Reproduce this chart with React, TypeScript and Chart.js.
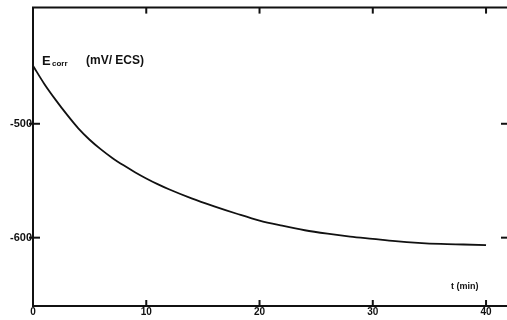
import React, { useEffect, useRef } from "react";
import { Chart, registerables } from "chart.js";

Chart.register(...registerables);

const timeMin = [0, 1, 2, 3, 4, 5, 6, 7, 8, 9, 10, 11, 12, 14, 16, 18, 20, 22, 24, 26, 28, 30, 32, 34, 36, 38, 40];
const ecorr = [-449, -465, -479, -492, -504, -514, -522.5, -530, -536.5, -542.5, -548, -553, -557.5, -565.5, -572.5, -579, -585, -589.5, -593.5, -596.5, -599, -601, -603, -604.5, -605.5, -606, -606.5];
const xTicks = [0, 10, 20, 30, 40];
const yTicks = [-500, -600];
const yTitleMain = "E";
const yTitleSub = "corr";
const yTitleUnit = "(mV/ ECS)";
const xTitle = "t (min)";

const INK = "#111";
const FONT = "'Liberation Sans', Arial, sans-serif";

const framePlugin = {
  id: "frame",
  afterDraw(chart: any) {
    const { ctx, chartArea, scales } = chart;
    const { left, right, top, bottom } = chartArea;
    const x = scales.x;
    const y = scales.y;
    ctx.save();
    ctx.strokeStyle = INK;
    ctx.lineWidth = 2;
    const line = (x1: number, y1: number, x2: number, y2: number) => {
      ctx.beginPath();
      ctx.moveTo(x1, y1);
      ctx.lineTo(x2, y2);
      ctx.stroke();
    };
    line(left - 1, top, right, top);
    for (const v of xTicks) {
      if (v === 0) continue;
      const px = x.getPixelForValue(v);
      line(px, bottom, px, bottom - 6);
      line(px, top, px, top + 6);
    }
    for (const v of yTicks) {
      const py = y.getPixelForValue(v);
      line(left - 4, py, left + 7, py);
      line(right - 6, py, right, py);
    }
    ctx.fillStyle = INK;
    ctx.textBaseline = "alphabetic";
    ctx.textAlign = "left";
    ctx.font = `bold 13px ${FONT}`;
    ctx.fillText(yTitleMain, left + 9, top + 57);
    ctx.font = `bold 8px ${FONT}`;
    ctx.fillText(yTitleSub, left + 19, top + 58);
    ctx.font = `bold 12px ${FONT}`;
    ctx.fillText(yTitleUnit, left + 53, top + 56);
    ctx.font = `bold 9px ${FONT}`;
    ctx.fillText(xTitle, x.getPixelForValue(36.9), bottom - 17);
    ctx.restore();
  },
};

export default function App() {
  const ref = useRef<HTMLCanvasElement | null>(null);
  useEffect(() => {
    if (!ref.current) return;
    const chart = new Chart(ref.current, {
      type: "line",
      data: {
        datasets: [
          {
            data: timeMin.map((t, i) => ({ x: t, y: ecorr[i] })),
            borderColor: INK,
            borderWidth: 1.8,
            pointRadius: 0,
            cubicInterpolationMode: "monotone",
            fill: false,
          },
        ],
      },
      options: {
        animation: false,
        responsive: false,
        maintainAspectRatio: false,
        layout: { padding: { top: 4, left: 0, right: 0, bottom: 0 } },
        plugins: { legend: { display: false }, tooltip: { enabled: false } },
        scales: {
          x: {
            type: "linear",
            min: 0,
            max: 41.85,
            grid: { display: false, drawTicks: false },
            border: { display: true, color: INK, width: 2 },
            afterBuildTicks: (axis: any) => {
              axis.ticks = xTicks.map((v) => ({ value: v }));
            },
            afterFit: (axis: any) => {
              axis.height = 14;
            },
            ticks: {
              padding: 0,
              color: INK,
              maxRotation: 0,
              autoSkip: false,
              font: { family: FONT, size: 10, weight: "bold" },
              callback: (v: any) => String(v),
            },
          },
          y: {
            type: "linear",
            min: -660,
            max: -398,
            grid: { display: false, drawTicks: false },
            border: { display: true, color: INK, width: 2 },
            afterBuildTicks: (axis: any) => {
              axis.ticks = yTicks.map((v) => ({ value: v }));
            },
            afterFit: (axis: any) => {
              axis.width = 33;
            },
            ticks: {
              padding: 1,
              color: INK,
              autoSkip: false,
              font: { family: FONT, size: 11, weight: "bold" },
              callback: (v: any) => String(v),
            },
          },
        },
      },
      plugins: [framePlugin],
    } as any);
    return () => chart.destroy();
  }, []);
  return (
    <div style={{ position: "absolute", left: 0, top: 0, width: 507, height: 320, background: "#fff" }}>
      <canvas ref={ref} width={507} height={320} style={{ display: "block" }} />
    </div>
  );
}
